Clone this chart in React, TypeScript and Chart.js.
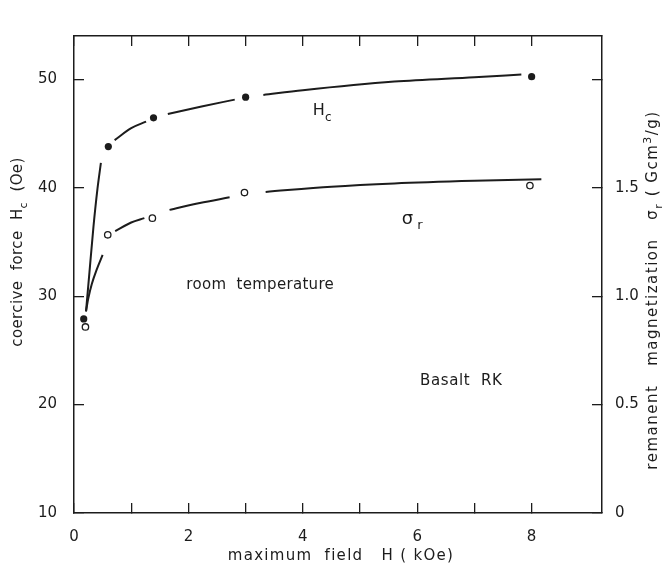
import React, { useEffect, useRef } from 'react';
import { Chart, registerables } from 'chart.js';

Chart.register(...registerables);

// measured points
const fieldHc = [0.17, 0.6, 1.39, 3.0, 8.0];
const coerciveForce = [27.9, 43.8, 46.45, 48.36, 50.25];
const fieldSr = [0.2, 0.59, 1.37, 2.98, 7.97];
const remanentMag = [0.858, 1.283, 1.36, 1.478, 1.51];

// hand-drawn fitted curves, read along the drawn pieces (broken around the markers)
const hcCurveSegments: number[][][] = [
  [[0.21, 28.6], [0.27, 32.2], [0.34, 36.4], [0.41, 39.9], [0.47, 42.3]],
  [[0.71, 44.4], [1.0, 45.5], [1.26, 46.1]],
  [[1.64, 46.8], [2.23, 47.5], [2.81, 48.13]],
  [[3.31, 48.56], [4.0, 49.0], [5.6, 49.8], [7.0, 50.2], [7.82, 50.45]],
];
const srCurveSegments: number[][][] = [
  [[0.21, 0.93], [0.25, 0.99], [0.31, 1.055], [0.4, 1.125], [0.5, 1.19]],
  [[0.72, 1.3], [1.0, 1.34], [1.23, 1.36]],
  [[1.67, 1.398], [2.2, 1.43], [2.72, 1.456]],
  [[3.35, 1.481], [4.5, 1.505], [5.6, 1.52], [7.0, 1.532], [8.17, 1.539]],
];

// axis ranges / ticks
const xMin = 0;
const xMax = 9.23;
const xTickMax = 8;
const yLeftMin = 10;
const yLeftMax = 54;
const yRightMin = 0;
const yRightMax = 2.2;

const FONT = '"DejaVu Sans", sans-serif';
const INK = '#1c1c1c';

type Part = { t: string; sub?: boolean; sup?: boolean };

function drawRich(
  ctx: CanvasRenderingContext2D,
  parts: Part[],
  cx: number,
  cy: number,
  angle: number,
  size: number,
  spacing: number
) {
  ctx.save();
  ctx.translate(cx, cy);
  ctx.rotate(angle);
  ctx.fillStyle = INK;
  ctx.textBaseline = 'alphabetic';
  ctx.textAlign = 'left';
  (ctx as any).letterSpacing = spacing + 'px';
  const fontFor = (p: Part) => `${p.sub || p.sup ? Math.round(size * 0.72) : size}px ${FONT}`;
  let total = 0;
  const widths = parts.map((p) => {
    ctx.font = fontFor(p);
    const w = ctx.measureText(p.t).width;
    total += w;
    return w;
  });
  let x = -total / 2;
  const base = size * 0.36;
  parts.forEach((p, i) => {
    ctx.font = fontFor(p);
    const dy = p.sub ? size * 0.32 : p.sup ? -size * 0.42 : 0;
    ctx.fillText(p.t, x, base + dy);
    x += widths[i];
  });
  ctx.restore();
}

const textPlugin = {
  id: 'annotTexts',
  afterDraw(chart: any) {
    const { ctx, scales } = chart;
    const sx = scales.x;
    const sy = scales.y;
    drawRich(ctx, [{ t: 'H' }, { t: 'c', sub: true }], sx.getPixelForValue(4.34), sy.getPixelForValue(47.2), 0, 16, 0.3);
    drawRich(ctx, [{ t: 'σ' }, { t: ' r', sub: true }], sx.getPixelForValue(5.91), sy.getPixelForValue(37.3), 0, 18, 0);
    drawRich(ctx, [{ t: 'room  temperature' }], sx.getPixelForValue(3.255), sy.getPixelForValue(31.2), 0, 15, 0.3);
    drawRich(ctx, [{ t: 'Basalt  RK' }], sx.getPixelForValue(6.77), sy.getPixelForValue(22.3), 0, 15, 0.6);
    drawRich(
      ctx,
      [{ t: 'coercive  force  H' }, { t: 'c', sub: true }, { t: '  (Oe)' }],
      17,
      252,
      -Math.PI / 2,
      15,
      0.4
    );
    drawRich(
      ctx,
      [{ t: 'remanent   magnetization   σ' }, { t: 'r', sub: true }, { t: ' ( Gcm' }, { t: '3', sup: true }, { t: '/g)' }],
      652,
      290,
      -Math.PI / 2,
      15,
      1.5
    );
    drawRich(ctx, [{ t: 'maximum  field   H ( kOe)' }], 341, 555, 0, 15, 1.3);
  },
};

export default function App() {
  const ref = useRef<HTMLCanvasElement | null>(null);

  useEffect(() => {
    if (!ref.current) return;
    const hcPts = fieldHc.map((x, i) => ({ x, y: coerciveForce[i] }));
    const srPts = fieldSr.map((x, i) => ({ x, y: remanentMag[i] }));

    const curveDs = (seg: number[][], axis: string, label: string) => ({
      label,
      data: seg.map(([x, y]) => ({ x, y })),
      yAxisID: axis,
      showLine: true,
      pointRadius: 0,
      borderColor: INK,
      borderWidth: 2,
      cubicInterpolationMode: 'monotone',
    });

    const tickFont = { family: FONT, size: 15 };
    const gridStyle = { drawOnChartArea: false, drawTicks: true, tickLength: -10, color: INK, lineWidth: 1.3 };
    const borderStyle = { display: true, color: INK, width: 1.5 };
    const keepUpTo8 = (s: any) => {
      s.ticks = s.ticks.filter((t: any) => t.value <= xTickMax + 1e-9);
    };

    const chart = new Chart(ref.current, {
      type: 'scatter',
      data: {
        datasets: [
          {
            label: 'Hc',
            data: hcPts,
            yAxisID: 'y',
            pointRadius: 3.6,
            pointBackgroundColor: INK,
            pointBorderColor: INK,
            pointBorderWidth: 0,
            showLine: false,
          },
          {
            label: 'σr',
            data: srPts,
            yAxisID: 'y2',
            pointRadius: 3.2,
            pointBackgroundColor: '#ffffff',
            pointBorderColor: INK,
            pointBorderWidth: 1.3,
            showLine: false,
          },
          ...hcCurveSegments.map((s, i) => curveDs(s, 'y', 'Hc curve ' + i)),
          ...srCurveSegments.map((s, i) => curveDs(s, 'y2', 'σr curve ' + i)),
        ] as any,
      },
      options: {
        responsive: false,
        animation: false,
        events: [],
        layout: { padding: 0 },
        plugins: { legend: { display: false }, tooltip: { enabled: false } },
        scales: {
          x: {
            type: 'linear',
            position: 'bottom',
            min: xMin,
            max: xMax,
            afterBuildTicks: keepUpTo8,
            afterFit: (s: any) => {
              s.height = 57;
            },
            ticks: {
              stepSize: 1,
              includeBounds: false,
              autoSkip: false,
              maxRotation: 0,
              padding: 25,
              color: INK,
              font: tickFont,
              callback: (v: any) => (Math.abs(v % 2) < 1e-9 ? String(v) : ''),
            },
            grid: gridStyle,
            border: borderStyle,
          },
          x2: {
            type: 'linear',
            position: 'top',
            min: xMin,
            max: xMax,
            afterBuildTicks: keepUpTo8,
            afterFit: (s: any) => {
              s.height = 8;
            },
            ticks: { stepSize: 1, includeBounds: false, display: false },
            grid: gridStyle,
            border: borderStyle,
          },
          y: {
            type: 'linear',
            position: 'left',
            min: yLeftMin,
            max: yLeftMax,
            afterFit: (s: any) => {
              s.width = 74;
            },
            ticks: { stepSize: 10, includeBounds: false, padding: 27, color: INK, font: tickFont },
            grid: gridStyle,
            border: borderStyle,
          },
          y2: {
            type: 'linear',
            position: 'right',
            min: yRightMin,
            max: yRightMax,
            afterFit: (s: any) => {
              s.width = 62;
            },
            ticks: {
              stepSize: 0.5,
              includeBounds: false,
              padding: 23,
              color: INK,
              font: tickFont,
              callback: (v: any) => (v === 0 ? '0' : v > 1.9 ? '' : Number(v).toFixed(1)),
            },
            grid: gridStyle,
            border: borderStyle,
          },
        },
      } as any,
      plugins: [textPlugin],
    });
    return () => chart.destroy();
  }, []);

  return (
    <div style={{ position: 'absolute', left: 0, top: 0, width: 664, height: 570, background: '#fff' }}>
      <canvas ref={ref} width={664} height={570} style={{ display: 'block' }} />
    </div>
  );
}
